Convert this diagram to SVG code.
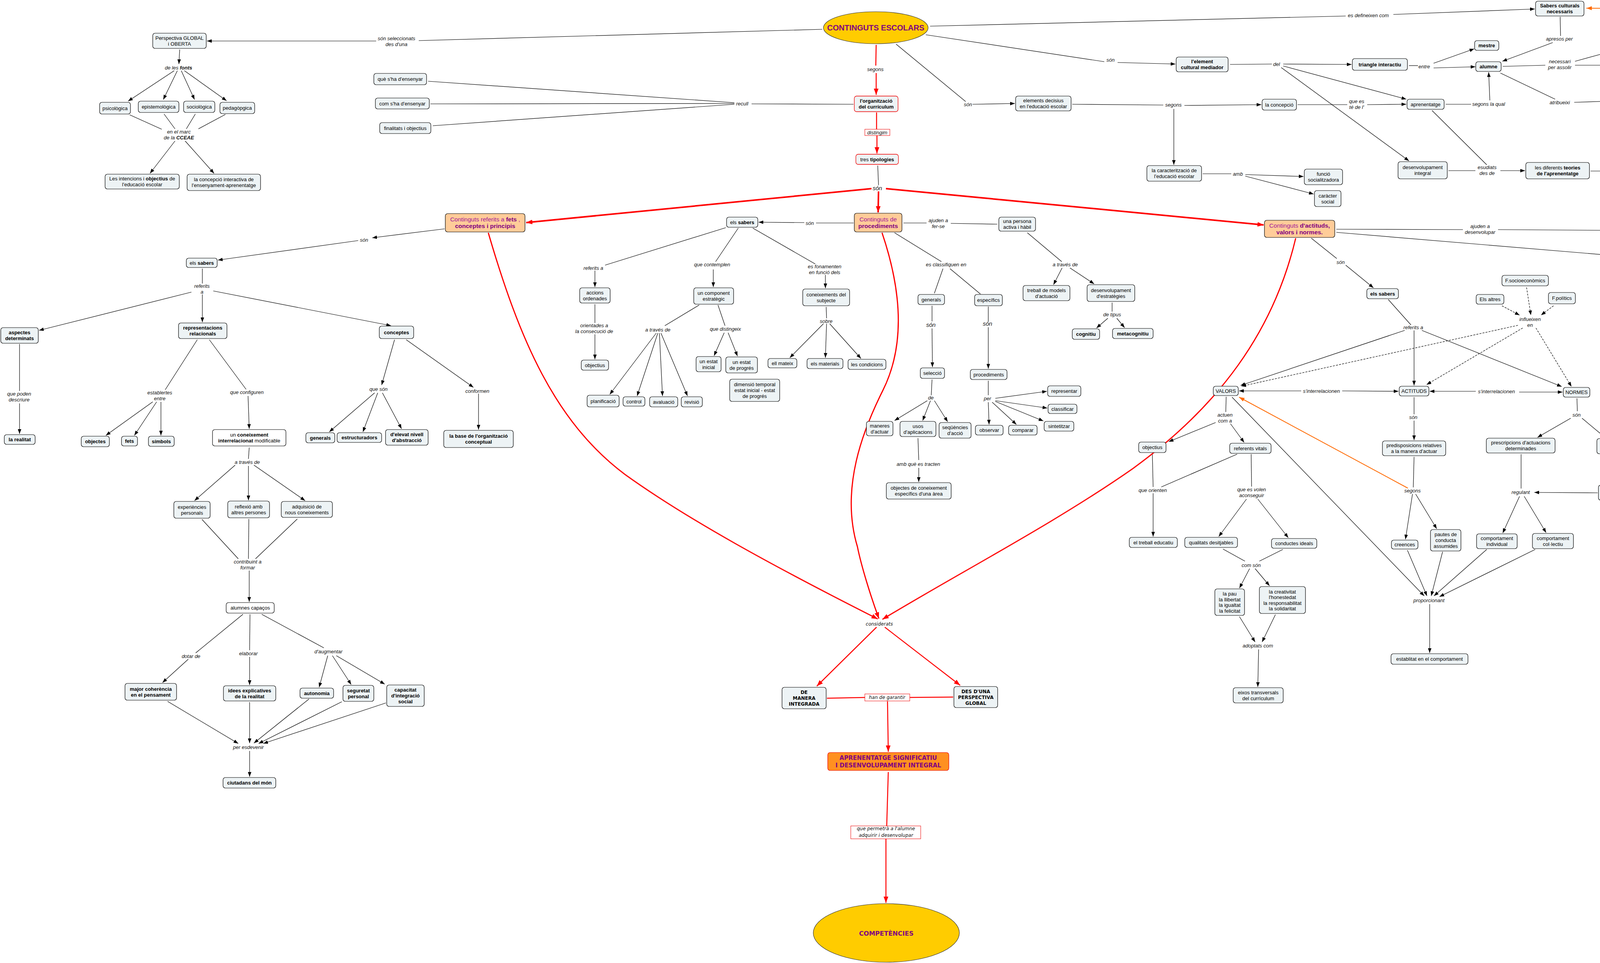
<svg xmlns="http://www.w3.org/2000/svg" width="4938" height="2466" viewBox="0 0 4938 2466">
<defs>
<style>
.n{fill:#edf3f5;stroke:#000;stroke-width:1.2}
.nw{fill:#fff;stroke:#000;stroke-width:1.2}
.nr{fill:#edf3f5;stroke:#e00;stroke-width:1.3}
.no{fill:#ffcc99;stroke:#000;stroke-width:1.2}
.t{font-family:"Liberation Sans",Arial,sans-serif;font-size:13px;fill:#000;text-anchor:middle}
.b{font-weight:bold}
.l{font-family:"Liberation Sans",Arial,sans-serif;font-size:13px;font-style:italic;fill:#111;text-anchor:middle}
.v{font-family:"DejaVu Sans",Verdana,sans-serif}
.big{font-size:15.5px}
.pm{fill:#a0189a}
.pp{fill:#800080}
.c{fill:none;stroke:#000;stroke-width:1.2}
.a{marker-end:url(#ah)}
.d{stroke-dasharray:5 3}
.r{fill:none;stroke:#f00;stroke-width:2.5}
.rt{stroke-width:4}
.rc{stroke-width:3}
.ra{marker-end:url(#rh)}
.o{fill:none;stroke:#ff6a00;stroke-width:2}
.oa{marker-end:url(#oh)}
.lb{fill:#fff;stroke:#e00;stroke-width:1}
</style>
<marker id="ah" viewBox="0 0 12 9" refX="12" refY="4.5" markerWidth="12" markerHeight="9" markerUnits="userSpaceOnUse" orient="auto"><path d="M0,0 L12,4.5 L0,9 z" fill="#000"/></marker>
<marker id="rh" viewBox="0 0 16 12" refX="16" refY="6" markerWidth="16" markerHeight="12" markerUnits="userSpaceOnUse" orient="auto"><path d="M0,0 L16,6 L0,12 z" fill="#f00"/></marker>
<marker id="oh" viewBox="0 0 14 10" refX="14" refY="5" markerWidth="14" markerHeight="10" markerUnits="userSpaceOnUse" orient="auto"><path d="M0,0 L14,5 L0,10 z" fill="#ff6a00"/></marker>
</defs>
<rect width="4938" height="2466" fill="#fff"/>

<g id="connectors">
<path class="c" d="M1072,104 L2105,75"/>
<path class="c" d="M2294,113 L2472,260"/>
<path class="c" d="M2370,89 L2827,158"/>
<path class="c" d="M2381,67 L3445,41"/>
<path class="c" d="M332,294 L414,331"/>
<path class="c" d="M420,292 L448,330"/>
<path class="c" d="M500,292 L477,330"/>
<path class="c" d="M577,293 L508,330"/>
<path class="c" d="M1096,208 L1880,263"/>
<path class="c" d="M1102,266 L1880,265"/>
<path class="c" d="M1108,322 L1880,267"/>
<path class="c" d="M1924,266 L2185,267"/>
<path class="c" d="M2247,424 L2249,474"/>
<path class="c" d="M3149,165 L3256,164"/>
<path class="c" d="M3607,168 L3630,168"/>
<path class="c" d="M2745,267 L2978,269"/>
<path class="c" d="M3322,268 L3449,268"/>
<path class="c" d="M3701,267 L3766,267"/>
<path class="c" d="M3666,283 L3806,422"/>
<path class="c" d="M3708,437 L3777,437"/>
<path class="c" d="M4072,438 L4155,438"/>
<path class="c" d="M3079,445 L3152,445"/>
<path class="c" d="M3994,43 L3995,92"/>
<path class="c" d="M3847,170 L3956,167"/>
<path class="c" d="M3841,187 L3981,254"/>
<path class="c" d="M2313,571 L2372,571"/>
<path class="c" d="M2434,572 L2553,574"/>
<path class="c" d="M2185,571 L2089,571"/>
<path class="c" d="M2290,596 L2410,670"/>
<path class="c" d="M2414,688 L2392,751"/>
<path class="c" d="M2432,688 L2510,753"/>
<path class="c" d="M1858,583 L1549,679"/>
<path class="c" d="M1890,584 L1832,670"/>
<path class="c" d="M1927,584 L2087,676"/>
<path class="c" d="M1523,779 L1523,827"/>
<path class="c" d="M1790,781 L1702,834"/>
<path class="c" d="M1838,781 L1856,834"/>
<path class="c" d="M2115,786 L2116,815"/>
<path class="c" d="M2386,783 L2386,823"/>
<path class="c" d="M2386,972 L2384,1012"/>
<path class="c" d="M2350,1122 L2352,1178"/>
<path class="c" d="M2530,785 L2530,823"/>
<path class="c" d="M2530,975 L2530,1012"/>
<path class="c" d="M2630,596 L2718,670"/>
<path class="c" d="M2847,775 L2847,798"/>
<path class="c" d="M3421,587 L3745,588"/>
<path class="c" d="M3835,588 L4139,590"/>
<path class="c" d="M3357,610 L3422,662"/>
<path class="c" d="M3554,767 L3612,832"/>
<path class="c" d="M3139,1016 L3138,1055"/>
<path class="c" d="M2950,1162 L2952,1247"/>
<path class="c" d="M3167,1163 L2973,1247"/>
<path class="c" d="M3203,1163 L3204,1246"/>
<path class="c" d="M3620,1017 L3620,1061"/>
<path class="c" d="M3620,1170 L3618,1248"/>
<path class="c" d="M3131,1406 L3187,1437"/>
<path class="c" d="M3284,1407 L3224,1437"/>
<path class="c" d="M4037,1020 L4038,1053"/>
<path class="c" d="M4139,1164 L4141,1191"/>
<path class="c" d="M3894,1163 L3894,1251"/>
<path class="c" d="M4678,863 L4551,959"/>
<path class="c" d="M4699,863 L4698,963"/>
<path class="c" d="M4845,861 L4847,954"/>
<path class="c" d="M4483,1105 L4511,1204"/>
<path class="c" d="M4570,1105 L4523,1204"/>
<path class="c" d="M4299,1300 L4239,1353"/>
<path class="c" d="M4349,1300 L4390,1347"/>
<path class="c" d="M4224,1464 L4226,1507"/>
<path class="c" d="M4399,1468 L4399,1506"/>
<path class="c" d="M518,688 L518,726"/>
<path class="c" d="M50,881 L50,1001"/>
<path class="c" d="M505,870 L423,998"/>
<path class="c" d="M536,870 L630,997"/>
<path class="c" d="M638,1146 L636,1175"/>
<path class="c" d="M517,1330 L610,1431"/>
<path class="c" d="M637,1329 L636,1431"/>
<path class="c" d="M761,1329 L654,1431"/>
<path class="c" d="M622,1573 L501,1672"/>
<path class="c" d="M640,1573 L639,1665"/>
<path class="c" d="M670,1573 L829,1659"/>

<path class="c a" d="M963,105 L530,105"/>
<path class="c a" d="M460,127 L458,164"/>
<path class="c a" d="M446,181 L328,259"/>
<path class="c a" d="M454,181 L418,255"/>
<path class="c a" d="M464,181 L498,255"/>
<path class="c a" d="M472,181 L580,258"/>
<path class="c a" d="M448,361 L384,444"/>
<path class="c a" d="M474,361 L548,444"/>
<path class="c a" d="M3567,37 L3929,23"/>
<path class="c a" d="M2861,160 L3009,164"/>
<path class="c a" d="M2490,267 L2598,265"/>
<path class="c a" d="M3285,164 L3460,165"/>
<path class="c a" d="M3285,169 L3600,254"/>
<path class="c a" d="M3280,173 L3607,412"/>
<path class="c a" d="M3670,162 L3774,125"/>
<path class="c a" d="M3670,174 L3777,171"/>
<path class="c a" d="M3032,270 L3229,268"/>
<path class="c a" d="M3005,279 L3005,422"/>
<path class="c a" d="M3500,268 L3600,267"/>
<path class="c a" d="M3814,257 L3811,185"/>
<path class="c a" d="M3841,437 L3904,437"/>
<path class="c a" d="M4250,438 L4301,438"/>
<path class="c a" d="M3188,447 L3337,452"/>
<path class="c a" d="M3188,451 L3363,497"/>
<path class="c a" d="M3975,109 L3846,157"/>
<path class="c a" d="M4032,157 L4116,134"/>
<path class="c a" d="M4032,167 L4140,167"/>
<path class="c a" d="M4030,262 L4121,259"/>
<path class="c a" d="M1138,586 L953,609"/>
<path class="c a" d="M917,616 L558,666"/>
<path class="c a" d="M2059,570 L1942,569"/>
<path class="c a" d="M1523,693 L1523,735"/>
<path class="c a" d="M1826,690 L1826,735"/>
<path class="c a" d="M2113,704 L2113,738"/>
<path class="c a" d="M1523,856 L1523,920"/>
<path class="c a" d="M1680,853 L1561,1010"/>
<path class="c a" d="M1684,853 L1631,1014"/>
<path class="c a" d="M1688,853 L1696,1014"/>
<path class="c a" d="M1692,853 L1760,1014"/>
<path class="c a" d="M1854,852 L1828,911"/>
<path class="c a" d="M1864,852 L1888,912"/>
<path class="c a" d="M2108,829 L2022,916"/>
<path class="c a" d="M2116,829 L2113,916"/>
<path class="c a" d="M2124,829 L2204,918"/>
<path class="c a" d="M2386,841 L2387,940"/>
<path class="c a" d="M2374,1026 L2290,1077"/>
<path class="c a" d="M2382,1026 L2362,1077"/>
<path class="c a" d="M2392,1026 L2426,1080"/>
<path class="c a" d="M2352,1198 L2352,1234"/>
<path class="c a" d="M2530,838 L2530,944"/>
<path class="c a" d="M2548,1020 L2680,1002"/>
<path class="c a" d="M2548,1026 L2681,1045"/>
<path class="c a" d="M2548,1028 L2671,1078"/>
<path class="c a" d="M2540,1030 L2602,1087"/>
<path class="c a" d="M2530,1030 L2532,1087"/>
<path class="c a" d="M2719,686 L2697,729"/>
<path class="c a" d="M2739,686 L2801,727"/>
<path class="c a" d="M2836,815 L2807,840"/>
<path class="c a" d="M2859,815 L2879,839"/>
<path class="c a" d="M3421,595 L4281,667"/>
<path class="c a" d="M4330,674 L4636,707"/>
<path class="c a" d="M4307,679 L4312,940"/>
<path class="c a" d="M3445,679 L3516,737"/>
<path class="c a" d="M3596,846 L3176,987"/>
<path class="c a" d="M3620,846 L3620,987"/>
<path class="c a" d="M3640,846 L3998,990"/>
<path class="c a" d="M3112,1082 L2992,1131"/>
<path class="c a" d="M3150,1085 L3185,1133"/>
<path class="c a" d="M2952,1263 L2952,1374"/>
<path class="c a" d="M3191,1278 L3120,1374"/>
<path class="c a" d="M3220,1278 L3298,1377"/>
<path class="c a" d="M3154,1017 L3646,1526"/>
<path class="c a" d="M3620,1077 L3620,1127"/>
<path class="c a" d="M3616,1265 L3598,1381"/>
<path class="c a" d="M3624,1265 L3678,1354"/>
<path class="c a" d="M3603,1409 L3653,1526"/>
<path class="c a" d="M3693,1413 L3664,1526"/>
<path class="c a" d="M3806,1407 L3671,1526"/>
<path class="c a" d="M3930,1407 L3685,1528"/>
<path class="c a" d="M3660,1547 L3660,1672"/>
<path class="c a" d="M3199,1456 L3173,1506"/>
<path class="c a" d="M3213,1456 L3250,1500"/>
<path class="c a" d="M3173,1579 L3213,1644"/>
<path class="c a" d="M3265,1574 L3231,1644"/>
<path class="c a" d="M3222,1663 L3220,1759"/>
<path class="c a" d="M4021,1071 L3936,1120"/>
<path class="c a" d="M4050,1071 L4110,1121"/>
<path class="c a" d="M4141,1209 L4141,1240"/>
<path class="c a" d="M4090,1262 L3928,1261"/>
<path class="c a" d="M3890,1271 L3847,1365"/>
<path class="c a" d="M3902,1271 L3958,1364"/>
<path class="c a" d="M4693,727 L4693,748"/>
<path class="c a" d="M4695,778 L4697,832"/>
<path class="c a" d="M4722,778 L4814,831"/>
<path class="c a" d="M4534,977 L4491,1062"/>
<path class="c a" d="M4543,977 L4572,1057"/>
<path class="c a" d="M4697,981 L4697,1063"/>
<path class="c a" d="M4849,986 L4850,1060"/>
<path class="c a" d="M4316,970 L4322,1145"/>
<path class="c a" d="M4326,1173 L4326,1253"/>
<path class="c a" d="M4225,1370 L4224,1430"/>
<path class="c a" d="M4221,1524 L4175,1610"/>
<path class="c a" d="M4232,1524 L4273,1609"/>
<path class="c a" d="M4398,1365 L4398,1437"/>
<path class="c a" d="M4400,1522 L4401,1593"/>
<path class="c a" d="M490,748 L100,846"/>
<path class="c a" d="M518,754 L518,825"/>
<path class="c a" d="M546,745 L1001,834"/>
<path class="c a" d="M50,1033 L50,1111"/>
<path class="c a" d="M391,1029 L271,1115"/>
<path class="c a" d="M401,1029 L344,1115"/>
<path class="c a" d="M412,1029 L412,1115"/>
<path class="c a" d="M635,1014 L638,1098"/>
<path class="c a" d="M602,1191 L498,1282"/>
<path class="c a" d="M636,1193 L636,1281"/>
<path class="c a" d="M650,1191 L781,1282"/>
<path class="c a" d="M638,1461 L638,1541"/>
<path class="c a" d="M482,1688 L416,1748"/>
<path class="c a" d="M639,1682 L639,1754"/>
<path class="c a" d="M839,1679 L817,1760"/>
<path class="c a" d="M851,1679 L899,1753"/>
<path class="c a" d="M861,1679 L985,1752"/>
<path class="c a" d="M429,1796 L610,1904"/>
<path class="c a" d="M639,1798 L639,1903"/>
<path class="c a" d="M791,1790 L650,1903"/>
<path class="c a" d="M875,1797 L662,1904"/>
<path class="c a" d="M988,1800 L674,1904"/>
<path class="c a" d="M639,1923 L639,1989"/>
<path class="c a" d="M1010,870 L977,986"/>
<path class="c a" d="M959,1006 L843,1106"/>
<path class="c a" d="M967,1006 L929,1106"/>
<path class="c a" d="M979,1006 L1028,1098"/>
<path class="c a" d="M1040,870 L1212,992"/>
<path class="c a" d="M1225,1008 L1225,1100"/>
<path class="c a" d="M3331,1001 L3172,1001"/>
<path class="c a" d="M3436,1001 L3580,1002"/>
<path class="c a" d="M3778,1002 L3660,1002"/>
<path class="c a" d="M3889,1004 L4000,1004"/>

<path class="c a d" d="M3908,736 L3919,807"/>
<path class="c a d" d="M3845,783 L3890,807"/>
<path class="c a d" d="M3977,783 L3945,807"/>
<path class="c a d" d="M3886,833 L3178,989"/>
<path class="c a d" d="M3898,840 L3652,985"/>
<path class="c a d" d="M3932,840 L4023,990"/>

<path class="r" d="M2243,115 L2242,168"/>
<path class="r ra" d="M2243,187 L2243,243"/>
<path class="r" d="M2244,288 L2244,331"/>
<path class="r ra" d="M2245,347 L2245,393"/>
<path class="r rt ra" d="M2231,483 L1347,570"/>
<path class="r rt ra" d="M2249,490 L2248,544"/>
<path class="r rt ra" d="M2268,483 L3235,576"/>
<path class="r rc ra" d="M1250,596 C1330,870 1420,1080 1600,1215 C1760,1330 1980,1450 2247,1585"/>
<path class="r rc ra" d="M2258,596 C2300,720 2325,870 2260,1000 C2210,1100 2150,1250 2195,1400 C2205,1450 2230,1530 2250,1584"/>
<path class="r rc ra" d="M3317,610 C3260,850 3120,1040 2900,1200 C2700,1340 2450,1470 2259,1586"/>
<path class="r ra" d="M2244,1606 L2091,1757"/>
<path class="r ra" d="M2265,1606 L2458,1755"/>
<path class="r" d="M2117,1788 L2214,1786"/>
<path class="r" d="M2329,1786 L2440,1785"/>
<path class="r ra" d="M2272,1796 L2274,1925"/>
<path class="r" d="M2274,1977 L2270,2115"/>
<path class="r ra" d="M2268,2148 L2268,2312"/>

<path class="o" d="M4239,244 C4295,212 4330,190 4330,140 L4330,134"/>
<path class="o oa" d="M4330,110 L4330,80 C4330,40 4300,24 4230,22 L4061,21"/>
<path class="o oa" d="M3604,1250 L3172,1017"/>
<path class="o oa" d="M4504,1207 C4440,1140 4380,1050 4325,972"/>
</g>

<g id="linking-phrases">
<text class="l" x="1015" y="103">són seleccionats<tspan x="1015" dy="15">des d'una</tspan></text>
<text class="l" x="457" y="177.5">de les <tspan class="b">fonts</tspan></text>
<text class="l" x="458" y="342">en el marc<tspan x="458" dy="15">de la </tspan><tspan class="b">CCEAE</tspan></text>
<text class="l" x="1900" y="269.5">recull</text>
<text class="l" x="2241" y="181.5">segons</text>
<rect class="lb" x="2214" y="331" width="64" height="16"/>
<text class="l" x="2246" y="343.5">distingim</text>
<text class="l" x="2246" y="487" style="font-size:15px">són</text>
<text class="l" x="3503" y="43.5">es defineixen com</text>
<text class="l" x="2843" y="157.5">són</text>
<text class="l" x="2478" y="271.5">són</text>
<text class="l" x="3268" y="168.5">del</text>
<text class="l" x="3646" y="174.5">entre</text>
<text class="l" x="3004" y="272.5">segons</text>
<text class="l" x="3473" y="264">que es<tspan x="3473" dy="15">té de l'</tspan></text>
<text class="l" x="3169" y="449.5">amb</text>
<text class="l" x="3992" y="103.5">apresos per</text>
<text class="l" x="3993" y="162">necessari<tspan x="3993" dy="15">per assolir</tspan></text>
<text class="l" x="3993" y="266.5">atribueixi</text>
<text class="l" x="3811" y="270.5">segons la qual</text>
<text class="l" x="4328" y="126.5">a tots aquells</text>
<text class="l" x="3807" y="433">esudiats<tspan x="3807" dy="15">des de</tspan></text>
<text class="l" x="4201" y="432">que<tspan x="4201" dy="15">desenvolupen</tspan></text>
<text class="l" x="3789" y="584">ajuden a<tspan x="3789" dy="15">desenvolupar</tspan></text>
<text class="l" x="4305" y="674.5">el seu</text>
<text class="l" x="932" y="618.5">són</text>
<text class="l" x="517" y="737">referits<tspan x="517" dy="15">a</tspan></text>
<text class="l" x="2402" y="569">ajuden a<tspan x="2402" dy="15">fer-se</tspan></text>
<text class="l" x="2073" y="575.5">són</text>
<text class="l" x="1519" y="690.5">referits a</text>
<text class="l" x="1823" y="681.5">que contemplen</text>
<text class="l" x="2111" y="687">es fonamenten<tspan x="2111" dy="15">en funció dels</tspan></text>
<text class="l" x="2422" y="681.5">es classifiquen en</text>
<text class="l" x="2727" y="681.5">a través de</text>
<text class="l" x="3432" y="675.5">són</text>
<text class="l" x="49" y="1013">que poden<tspan x="49" dy="15">descriure</tspan></text>
<text class="l" x="409" y="1010">establertes<tspan x="409" dy="15">entre</tspan></text>
<text class="l" x="632" y="1008.5">que configuren</text>
<text class="l" x="633" y="1187.5">a través de</text>
<text class="l" x="634" y="1443">contribuint a<tspan x="634" dy="15">formar</tspan></text>
<text class="l" x="969" y="1000.5">que són</text>
<text class="l" x="1222" y="1005.5">conformen</text>
<text class="l" x="1521" y="838">orientades a<tspan x="1521" dy="15">la consecució de</tspan></text>
<text class="l" x="1684" y="848.5">a través de</text>
<text class="l" x="1857" y="846.5">que distingeix</text>
<text class="l" x="2115" y="826.5">sobre</text>
<text class="l" x="2383" y="837" style="font-size:15px">són</text>
<text class="l" x="2383" y="1022.5">de</text>
<text class="l" x="2351" y="1192.5">amb què es tracten</text>
<text class="l" x="2528" y="834" style="font-size:15px">són</text>
<text class="l" x="2528" y="1024.5">per</text>
<text class="l" x="2847" y="809.5">de tipus</text>
<text class="l" x="3618" y="842.5">referits a</text>
<text class="l" x="3383" y="1005.5">s'interrelacionen</text>
<text class="l" x="3831" y="1006.5">s'interrelacionen</text>
<text class="l" x="3917" y="822">influeixen<tspan x="3917" dy="15">en</tspan></text>
<text class="l" x="3136" y="1067">actuen<tspan x="3136" dy="15">com a</tspan></text>
<text class="l" x="2951" y="1259.5">que orienten</text>
<text class="l" x="3204" y="1258">que es volen<tspan x="3204" dy="15">aconseguir</tspan></text>
<text class="l" x="3618" y="1072.5">són</text>
<text class="l" x="3616" y="1260.5">segons</text>
<text class="l" x="4036" y="1066.5">són</text>
<text class="l" x="4138" y="1204.5">però</text>
<text class="l" x="3893" y="1264.5">regulant</text>
<text class="l" x="3203" y="1451.5">com són</text>
<text class="l" x="3220" y="1657.5">adoptats com</text>
<text class="l" x="3658" y="1541.5">proporcionant</text>
<text class="l" x="4692" y="760">hi distingim<tspan x="4692" dy="15">dues vies</tspan></text>
<text class="l" x="4536" y="972.5">fomenta</text>
<text class="l" x="4693" y="975.5">programa</text>
<text class="l" x="4847" y="966">treballa per<tspan x="4847" dy="15">mitjà de</tspan></text>
<text class="l" x="4514" y="1217.5">per facilitar</text>
<text class="l" x="4322" y="1154">suposa<tspan x="4322" dy="15">crear una</tspan></text>
<text class="l" x="4227" y="1364.5">segons les</text>
<text class="l" x="4395" y="1359.5">que atribuirà</text>
<text class="l" x="4222" y="1519.5">ja siguin</text>
<text class="l" x="4398" y="1518.5">a</text>
<text class="l" x="489" y="1684.5">dotar de</text>
<text class="l" x="636" y="1677.5">elaborar</text>
<text class="l" x="841" y="1672.5">d'augmentar</text>
<text class="l" x="636" y="1917.5">per esdevenir</text>
<text class="l v" x="2251" y="1602" style="font-size:12px">considerats</text>
<rect class="lb" x="2214" y="1777" width="115" height="18"/>
<text class="l v" x="2271" y="1790" style="font-size:12px">han de garantir</text>
<rect class="lb" x="2178" y="2115" width="179" height="33"/>
<text class="l v" x="2268" y="2126" style="font-size:12px">que permetrà a l'alumne<tspan x="2268" dy="17">adquirir i desenvolupar</tspan></text>
</g>

<g id="n-continguts"><ellipse cx="2242" cy="71" rx="134" ry="41" fill="#ffcc00" stroke="#333" stroke-width="1.2"/><text class="t b pp" x="2242" y="78" style="font-size:20px">CONTINGUTS ESCOLARS</text></g>
<g id="n-perspectiva"><rect class="n" x="391" y="85" width="137" height="39" rx="6"/><text class="t" x="459.5" y="101.5">Perspectiva GLOBAL<tspan x="459.5" dy="15">i OBERTA</tspan></text></g>
<g id="n-psicologica"><rect class="n" x="255" y="262" width="79" height="30" rx="6"/><text class="t" x="294.5" y="281.5">psicològica</text></g>
<g id="n-epistemologica"><rect class="n" x="354" y="259" width="104" height="29" rx="6"/><text class="t" x="406" y="278">epistemològica</text></g>
<g id="n-sociologica"><rect class="n" x="470" y="259" width="80" height="29" rx="6"/><text class="t" x="510" y="278">sociològica</text></g>
<g id="n-pedagogica"><rect class="n" x="563" y="262" width="89" height="29" rx="6"/><text class="t" x="607.5" y="281">pedagòpgica</text></g>
<g id="n-intencions"><rect class="n" x="269" y="446" width="190" height="38" rx="6"/><text class="t" x="364" y="462">Les intencions i <tspan class="b">objectius</tspan> de<tspan x="364" dy="15">l'educació escolar</tspan></text></g>
<g id="n-concepcio-ea"><rect class="n" x="479" y="446" width="188" height="42" rx="6"/><text class="t" x="573" y="464">la concepció interactiva de<tspan x="573" dy="15">l'ensenyament-aprenentatge</tspan></text></g>
<g id="n-que-ensenyar"><rect class="n" x="957" y="188" width="135" height="29" rx="6"/><text class="t" x="1024.5" y="207">què s'ha d'ensenyar</text></g>
<g id="n-com-ensenyar"><rect class="n" x="961" y="251" width="138" height="28" rx="6"/><text class="t" x="1030" y="269.5">com s'ha d'ensenyar</text></g>
<g id="n-finalitats"><rect class="n" x="972" y="314" width="131" height="28" rx="6"/><text class="t" x="1037.5" y="332.5">finalitats i objectius</text></g>
<g id="n-organitzacio"><rect class="nr" x="2187" y="246" width="112" height="40" rx="6"/><text class="t b" x="2243" y="263">l'organització<tspan x="2243" dy="15">del currículum</tspan></text></g>
<g id="n-tipologies"><rect class="nr" x="2191" y="395" width="109" height="26" rx="6"/><text class="t" x="2245.5" y="412.5">tres <tspan class="b">tipologies</tspan></text></g>
<g id="n-c-fets"><rect class="no" x="1140" y="547" width="204" height="47" rx="6"/><text class="t big pm" x="1242" y="567">Continguts referits a <tspan class="b pp">fets</tspan> ,<tspan x="1242" dy="17" class="b pp">conceptes i principis</tspan></text></g>
<g id="n-c-proc"><rect class="no" x="2187" y="546" width="122" height="48" rx="6"/><text class="t big pm" x="2248" y="566.5">Continguts de<tspan x="2248" dy="17" class="b pp">procediments</tspan></text></g>
<g id="n-c-act"><rect class="no" x="3237" y="564" width="180" height="44" rx="6"/><text class="t big pm" x="3327" y="582.5">Continguts <tspan class="b pp">d'actituds,</tspan><tspan x="3327" dy="17" class="b pp">valors i normes.</tspan></text></g>
<g id="n-element"><rect class="n" x="3011" y="146" width="133" height="38" rx="6"/><text class="t b" x="3077.5" y="162">l'element<tspan x="3077.5" dy="15">cultural mediador</tspan></text></g>
<g id="n-triangle"><rect class="n" x="3462" y="150" width="141" height="30" rx="6"/><text class="t b" x="3532.5" y="169.5">triangle interactiu</text></g>
<g id="n-elements-decisius"><rect class="n" x="2600" y="246" width="142" height="38" rx="6"/><text class="t" x="2671" y="262">elements decisius<tspan x="2671" dy="15">en l'educació escolar</tspan></text></g>
<g id="n-concepcio"><rect class="n" x="3231" y="254" width="88" height="28" rx="6"/><text class="t" x="3275" y="272.5">la concepció</text></g>
<g id="n-aprenentatge"><rect class="n" x="3602" y="254" width="95" height="26" rx="6"/><text class="t" x="3649.5" y="271.5">aprenentatge</text></g>
<g id="n-desenv-integral"><rect class="n" x="3579" y="414" width="126" height="44" rx="6"/><text class="t" x="3642" y="433">desenvolupament<tspan x="3642" dy="15">integral</tspan></text></g>
<g id="n-caracteritzacio"><rect class="n" x="2936" y="424" width="140" height="40" rx="6"/><text class="t" x="3006" y="441">la caracterització de<tspan x="3006" dy="15">l'educació escolar</tspan></text></g>
<g id="n-funcio"><rect class="n" x="3339" y="433" width="98" height="40" rx="6"/><text class="t" x="3388" y="450">funció<tspan x="3388" dy="15">socialitzadora</tspan></text></g>
<g id="n-caracter"><rect class="n" x="3365" y="488" width="68" height="41" rx="6"/><text class="t" x="3399" y="505.5">caràcter<tspan x="3399" dy="15">social</tspan></text></g>
<g id="n-persona"><rect class="n" x="2557" y="556" width="94" height="36" rx="6"/><text class="t" x="2604" y="571">una persona<tspan x="2604" dy="15">activa i hàbil</tspan></text></g>
<g id="n-sabers-cult"><rect class="n" x="3931" y="3" width="124" height="38" rx="6"/><text class="t b" x="3993" y="19">Sabers culturals<tspan x="3993" dy="15">necessaris</tspan></text></g>
<g id="n-mestre"><rect class="n" x="3775" y="104" width="62" height="25" rx="6"/><text class="t b" x="3806" y="121">mestre</text></g>
<g id="n-alumne"><rect class="n" x="3778" y="158" width="65" height="25" rx="6"/><text class="t b" x="3810.5" y="175">alumne</text></g>
<g id="n-desenvolupament"><rect class="n" x="4111" y="106" width="134" height="27" rx="6"/><text class="t b" x="4178" y="124">desenvolupament</text></g>
<g id="n-socialitzacio"><rect class="n" x="4142" y="153" width="99" height="26" rx="6"/><text class="t b" x="4191.5" y="170.5">socialització</text></g>
<g id="n-significat-personal"><rect class="n" x="4123" y="245" width="139" height="26" rx="6"/><text class="t b" x="4192.5" y="262.5">significat personal</text></g>
<g id="n-teories"><rect class="n" x="3906" y="416" width="163" height="42" rx="6"/><text class="t" x="3987.5" y="434">les diferents <tspan class="b">teories</tspan><tspan x="3987.5" dy="15" class="b">de l'aprenentatge</tspan></text></g>
<g id="n-capacitats"><rect class="n" x="4303" y="406" width="120" height="61" rx="6"/><text class="t b" x="4363" y="425" style="font-size:15px">CAPACITATS<tspan x="4363" dy="17">DELS</tspan><tspan x="4363" dy="17">ALUMNES</tspan></text></g>
<g id="n-responsabilitat"><rect class="n" x="4141" y="576" width="132" height="28" rx="6"/><text class="t b" x="4207" y="594.5">la responsabilitat</text></g>
<g id="n-sabers-fets"><rect class="n" x="477" y="661" width="79" height="24" rx="6"/><text class="t" x="516.5" y="677.5">els <tspan class="b">sabers</tspan></text></g>
<g id="n-aspectes"><rect class="n" x="2" y="839" width="96" height="40" rx="6"/><text class="t b" x="50" y="856">aspectes<tspan x="50" dy="15">determinats</tspan></text></g>
<g id="n-representacions"><rect class="n" x="457" y="827" width="124" height="40" rx="6"/><text class="t b" x="519" y="844">representacions<tspan x="519" dy="15">relacionals</tspan></text></g>
<g id="n-conceptes"><rect class="n" x="971" y="835" width="88" height="32" rx="6"/><text class="t b" x="1015" y="855.5">conceptes</text></g>
<g id="n-realitat"><rect class="n" x="11" y="1113" width="79" height="25" rx="6"/><text class="t b" x="50.5" y="1130">la realitat</text></g>
<g id="n-objectes"><rect class="n" x="208" y="1117" width="72" height="27" rx="6"/><text class="t b" x="244" y="1135">objectes</text></g>
<g id="n-fets"><rect class="n" x="311" y="1117" width="41" height="25" rx="6"/><text class="t b" x="331.5" y="1134">fets</text></g>
<g id="n-simbols"><rect class="n" x="380" y="1117" width="66" height="26" rx="6"/><text class="t b" x="413" y="1134.5">símbols</text></g>
<g id="n-coneixement"><rect class="nw" x="544" y="1100" width="188" height="42" rx="6"/><text class="t" x="638" y="1118">un <tspan class="b">coneixement</tspan><tspan x="638" dy="15" class="b">interrelacionat</tspan> modificable</text></g>
<g id="n-experiencies"><rect class="n" x="445" y="1284" width="93" height="43" rx="6"/><text class="t" x="491.5" y="1302.5">experiències<tspan x="491.5" dy="15">personals</tspan></text></g>
<g id="n-reflexio"><rect class="n" x="583" y="1283" width="107" height="43" rx="6"/><text class="t" x="636.5" y="1301.5">reflexió amb<tspan x="636.5" dy="15">altres persones</tspan></text></g>
<g id="n-adquisicio"><rect class="n" x="720" y="1284" width="131" height="41" rx="6"/><text class="t" x="785.5" y="1301.5">adquisició de<tspan x="785.5" dy="15">nous coneixements</tspan></text></g>
<g id="n-generals-c"><rect class="n" x="783" y="1108" width="74" height="26" rx="6"/><text class="t b" x="820" y="1125.5">generals</text></g>
<g id="n-estructuradors"><rect class="n" x="863" y="1108" width="114" height="25" rx="6"/><text class="t b" x="920" y="1125">estructuradors</text></g>
<g id="n-elevat"><rect class="n" x="987" y="1100" width="109" height="40" rx="6"/><text class="t b" x="1041.5" y="1117">d'elevat nivell<tspan x="1041.5" dy="15">d'abstracció</tspan></text></g>
<g id="n-base"><rect class="n" x="1136" y="1102" width="178" height="44" rx="6"/><text class="t b" x="1225" y="1121">la base de l'organització<tspan x="1225" dy="15">conceptual</tspan></text></g>
<g id="n-alumnes-capacos"><rect class="nw" x="579" y="1543" width="123" height="27" rx="6"/><text class="t" x="640.5" y="1561">alumnes capaços</text></g>
<g id="n-major"><rect class="n" x="320" y="1750" width="132" height="43" rx="6"/><text class="t b" x="386" y="1768.5">major coherència<tspan x="386" dy="15">en el pensament</tspan></text></g>
<g id="n-idees"><rect class="n" x="572" y="1756" width="134" height="39" rx="6"/><text class="t b" x="639" y="1772.5">idees explicatives<tspan x="639" dy="15">de la realitat</tspan></text></g>
<g id="n-autonomia"><rect class="n" x="768" y="1762" width="86" height="26" rx="6"/><text class="t b" x="811" y="1779.5">autonomia</text></g>
<g id="n-seguretat"><rect class="n" x="878" y="1755" width="79" height="41" rx="6"/><text class="t b" x="917.5" y="1772.5">seguretat<tspan x="917.5" dy="15">personal</tspan></text></g>
<g id="n-capacitat"><rect class="n" x="990" y="1754" width="96" height="55" rx="6"/><text class="t b" x="1038" y="1771">capacitat<tspan x="1038" dy="15">d'integració</tspan><tspan x="1038" dy="15">social</tspan></text></g>
<g id="n-ciutadans"><rect class="n" x="571" y="1991" width="135" height="27" rx="6"/><text class="t b" x="638.5" y="2009">ciutadans del món</text></g>
<g id="n-sabers-proc"><rect class="n" x="1860" y="556" width="80" height="26" rx="6"/><text class="t" x="1900" y="573.5">els <tspan class="b">sabers</tspan></text></g>
<g id="n-accions"><rect class="n" x="1484" y="737" width="78" height="39" rx="6"/><text class="t" x="1523" y="753.5">accions<tspan x="1523" dy="15">ordenades</tspan></text></g>
<g id="n-objectius-p"><rect class="n" x="1488" y="922" width="70" height="26" rx="6"/><text class="t" x="1523" y="939.5">objectius</text></g>
<g id="n-component"><rect class="n" x="1776" y="737" width="102" height="42" rx="6"/><text class="t" x="1827" y="755">un component<tspan x="1827" dy="15">estratègic</tspan></text></g>
<g id="n-planificacio"><rect class="n" x="1503" y="1012" width="82" height="30" rx="6"/><text class="t" x="1544" y="1031.5">planificació</text></g>
<g id="n-control"><rect class="n" x="1595" y="1016" width="56" height="24" rx="6"/><text class="t" x="1623" y="1032.5">control</text></g>
<g id="n-avaluacio"><rect class="n" x="1663" y="1016" width="72" height="26" rx="6"/><text class="t" x="1699" y="1033.5">avaluació</text></g>
<g id="n-revisio"><rect class="n" x="1744" y="1016" width="54" height="26" rx="6"/><text class="t" x="1771" y="1033.5">revisió</text></g>
<g id="n-estat-inicial"><rect class="n" x="1782" y="913" width="64" height="39" rx="6"/><text class="t" x="1814" y="929.5">un estat<tspan x="1814" dy="15">inicial</tspan></text></g>
<g id="n-estat-progres"><rect class="n" x="1858" y="914" width="81" height="41" rx="6"/><text class="t" x="1898.5" y="931.5">un estat<tspan x="1898.5" dy="15">de progrés</tspan></text></g>
<g id="n-dimensio"><rect class="n" x="1868" y="971" width="128" height="57" rx="6"/><text class="t" x="1932" y="989">dimensió temporal<tspan x="1932" dy="15">estat inicial - estat</tspan><tspan x="1932" dy="15">de progrés</tspan></text></g>
<g id="n-coneixements-subj"><rect class="n" x="2055" y="740" width="120" height="43" rx="6"/><text class="t" x="2115" y="758.5">coneixements del<tspan x="2115" dy="15">subjecte</tspan></text></g>
<g id="n-ell-mateix"><rect class="n" x="1966" y="918" width="74" height="24" rx="6"/><text class="t" x="2003" y="934.5">ell mateix</text></g>
<g id="n-materials"><rect class="n" x="2066" y="918" width="92" height="26" rx="6"/><text class="t" x="2112" y="935.5">els materials</text></g>
<g id="n-condicions"><rect class="n" x="2171" y="920" width="97" height="26" rx="6"/><text class="t" x="2219.5" y="937.5">les condicions</text></g>
<g id="n-generals-p"><rect class="n" x="2350" y="754" width="68" height="26" rx="6"/><text class="t" x="2384" y="771.5">generals</text></g>
<g id="n-especifics"><rect class="n" x="2495" y="754" width="71" height="29" rx="6"/><text class="t" x="2530.5" y="773">específics</text></g>
<g id="n-seleccio"><rect class="n" x="2356" y="942" width="62" height="27" rx="6"/><text class="t" x="2387" y="960">selecció</text></g>
<g id="n-maneres"><rect class="n" x="2218" y="1079" width="68" height="37" rx="6"/><text class="t" x="2252" y="1094.5">maneres<tspan x="2252" dy="15">d'actuar</tspan></text></g>
<g id="n-usos"><rect class="n" x="2304" y="1079" width="92" height="39" rx="6"/><text class="t" x="2350" y="1095.5">usos<tspan x="2350" dy="15">d'aplicacions</tspan></text></g>
<g id="n-sequencies"><rect class="n" x="2404" y="1082" width="82" height="40" rx="6"/><text class="t" x="2445" y="1099">seqüències<tspan x="2445" dy="15">d'acció</tspan></text></g>
<g id="n-objectes-con"><rect class="n" x="2269" y="1236" width="166" height="42" rx="6"/><text class="t" x="2352" y="1254">objectes de coneixement<tspan x="2352" dy="15">específics d'una àrea</tspan></text></g>
<g id="n-procediments"><rect class="n" x="2484" y="946" width="94" height="26" rx="6"/><text class="t" x="2531" y="963.5">procediments</text></g>
<g id="n-representar"><rect class="n" x="2682" y="988" width="85" height="27" rx="6"/><text class="t" x="2724.5" y="1006">representar</text></g>
<g id="n-classificar"><rect class="n" x="2683" y="1035" width="74" height="24" rx="6"/><text class="t" x="2720" y="1051.5">classificar</text></g>
<g id="n-sintetitzar"><rect class="n" x="2673" y="1079" width="76" height="25" rx="6"/><text class="t" x="2711" y="1096">sintetitzar</text></g>
<g id="n-comparar"><rect class="n" x="2582" y="1089" width="73" height="25" rx="6"/><text class="t" x="2618.5" y="1106">comparar</text></g>
<g id="n-observar"><rect class="n" x="2497" y="1089" width="71" height="25" rx="6"/><text class="t" x="2532.5" y="1106">observar</text></g>
<g id="n-treball-models"><rect class="n" x="2619" y="731" width="120" height="39" rx="6"/><text class="t" x="2679" y="747.5">treball de models<tspan x="2679" dy="15">d'actuació</tspan></text></g>
<g id="n-desenv-estrat"><rect class="n" x="2783" y="729" width="122" height="43" rx="6"/><text class="t" x="2844" y="747.5">desenvolupament<tspan x="2844" dy="15">d'estratègies</tspan></text></g>
<g id="n-cognitiu"><rect class="n" x="2745" y="842" width="70" height="27" rx="6"/><text class="t b" x="2780" y="860">cognitiu</text></g>
<g id="n-metacognitiu"><rect class="n" x="2848" y="841" width="104" height="26" rx="6"/><text class="t b" x="2900" y="858.5">metacognitiu</text></g>
<g id="n-sabers-act"><rect class="n" x="3499" y="739" width="81" height="26" rx="6"/><text class="t b" x="3539.5" y="756.5">els sabers</text></g>
<g id="n-valors"><rect class="n" x="3106" y="989" width="64" height="24" rx="6"/><text class="t" x="3138" y="1005.5">VALORS</text></g>
<g id="n-actituds"><rect class="n" x="3582" y="989" width="76" height="25" rx="6"/><text class="t" x="3620" y="1006">ACTITUDS</text></g>
<g id="n-normes"><rect class="n" x="4002" y="992" width="68" height="25" rx="6"/><text class="t" x="4036" y="1009">NORMES</text></g>
<g id="n-f-socio"><rect class="n" x="3845" y="705" width="119" height="27" rx="6"/><text class="t" x="3904.5" y="723">F.socioeconòmics</text></g>
<g id="n-els-altres"><rect class="n" x="3779" y="754" width="71" height="25" rx="6"/><text class="t" x="3814.5" y="771">Els altres</text></g>
<g id="n-f-politics"><rect class="n" x="3964" y="749" width="69" height="29" rx="6"/><text class="t" x="3998.5" y="768">F.polítics</text></g>
<g id="n-objectius-v"><rect class="n" x="2915" y="1132" width="70" height="27" rx="6"/><text class="t" x="2950" y="1150">objectius</text></g>
<g id="n-referents"><rect class="n" x="3148" y="1135" width="106" height="26" rx="6"/><text class="t" x="3201" y="1152.5">referents vitals</text></g>
<g id="n-treball-edu"><rect class="n" x="2891" y="1376" width="123" height="26" rx="6"/><text class="t" x="2952.5" y="1393.5">el treball educatiu</text></g>
<g id="n-qualitats"><rect class="n" x="3033" y="1376" width="135" height="26" rx="6"/><text class="t" x="3100.5" y="1393.5">qualitats desitjables</text></g>
<g id="n-conductes"><rect class="n" x="3255" y="1379" width="116" height="25" rx="6"/><text class="t" x="3313" y="1396">conductes ideals</text></g>
<g id="n-predisposicions"><rect class="n" x="3539" y="1129" width="162" height="38" rx="6"/><text class="t" x="3620" y="1145">predisposicions relatives<tspan x="3620" dy="15">a la manera d'actuar</tspan></text></g>
<g id="n-creences"><rect class="n" x="3562" y="1383" width="68" height="23" rx="6"/><text class="t" x="3596" y="1399">creences</text></g>
<g id="n-pautes"><rect class="n" x="3662" y="1356" width="78" height="55" rx="6"/><text class="t" x="3701" y="1373">pautes de<tspan x="3701" dy="15">conducta</tspan><tspan x="3701" dy="15">assumides</tspan></text></g>
<g id="n-prescripcions"><rect class="n" x="3805" y="1122" width="176" height="38" rx="6"/><text class="t" x="3893" y="1138">prescripcions d'actuacions<tspan x="3893" dy="15">determinades</tspan></text></g>
<g id="n-externes"><rect class="n" x="4088" y="1123" width="100" height="39" rx="6"/><text class="t" x="4138" y="1139.5">externes i<tspan x="4138" dy="15">convencionals</tspan></text></g>
<g id="n-adoptades"><rect class="n" x="4092" y="1242" width="100" height="39" rx="6"/><text class="t" x="4142" y="1258.5">adoptades i<tspan x="4142" dy="15">interioritzades</tspan></text></g>
<g id="n-comp-individual"><rect class="n" x="3780" y="1367" width="104" height="38" rx="6"/><text class="t" x="3832" y="1383">comportament<tspan x="3832" dy="15">individual</tspan></text></g>
<g id="n-comp-collectiu"><rect class="n" x="3923" y="1366" width="105" height="39" rx="6"/><text class="t" x="3975.5" y="1382.5">comportament<tspan x="3975.5" dy="15">col·lectiu</tspan></text></g>
<g id="n-aprenentatge2"><rect class="n" x="4253" y="942" width="122" height="25" rx="6"/><text class="t b" x="4314" y="959">APRENENTATGE</text></g>
<g id="n-ensenyament"><rect class="n" x="4638" y="697" width="107" height="28" rx="6"/><text class="t" x="4691.5" y="715.5">ENSENYAMENT</text></g>
<g id="n-via-curr"><rect class="n" x="4652" y="834" width="93" height="25" rx="6"/><text class="t" x="4698.5" y="851">Via curricular</text></g>
<g id="n-via-inst"><rect class="n" x="4788" y="833" width="111" height="25" rx="6"/><text class="t" x="4843.5" y="850">Via institucional</text></g>
<g id="n-clima"><rect class="n" x="4431" y="1064" width="88" height="38" rx="6"/><text class="t" x="4475" y="1080">Clima<tspan x="4475" dy="15">comunicatiu</tspan></text></g>
<g id="n-gestio"><rect class="n" x="4540" y="1059" width="86" height="43" rx="6"/><text class="t" x="4583" y="1077.5">Gestió<tspan x="4583" dy="15">cooperativa</tspan></text></g>
<g id="n-contiguts-act"><rect class="n" x="4655" y="1065" width="85" height="38" rx="6"/><text class="t" x="4697.5" y="1081">Contiguts<tspan x="4697.5" dy="15">actitudinals</tspan></text></g>
<g id="n-relacions"><rect class="n" x="4767" y="1062" width="169" height="42" rx="6"/><text class="t" x="4851.5" y="1080">les relacions socials<tspan x="4851.5" dy="15">configurades en el centre</tspan></text></g>
<g id="n-configuracio"><rect class="n" x="4255" y="1255" width="144" height="42" rx="6"/><text class="t" x="4327" y="1273">configuració personal<tspan x="4327" dy="15">subjectiva</tspan></text></g>
<g id="n-experiencies2"><rect class="n" x="4179" y="1432" width="90" height="29" rx="6"/><text class="t" x="4224" y="1451">experiències</text></g>
<g id="n-positives"><rect class="n" x="4130" y="1612" width="68" height="27" rx="6"/><text class="t" x="4164" y="1630">positives</text></g>
<g id="n-negatives"><rect class="n" x="4246" y="1611" width="72" height="27" rx="6"/><text class="t" x="4282" y="1629">negatives</text></g>
<g id="n-significat"><rect class="n" x="4365" y="1439" width="68" height="26" rx="6"/><text class="t" x="4399" y="1456.5">significat</text></g>
<g id="n-comportaments"><rect class="n" x="4348" y="1595" width="110" height="40" rx="6"/><text class="t" x="4403" y="1612">comportaments<tspan x="4403" dy="15">i actituds</tspan></text></g>
<g id="n-la-pau"><rect class="n" x="3110" y="1508" width="76" height="68" rx="6"/><text class="t" x="3148" y="1525">la pau<tspan x="3148" dy="14.5">la llibertat</tspan><tspan x="3148" dy="14.5">la igualtat</tspan><tspan x="3148" dy="14.5">la felicitat</tspan></text></g>
<g id="n-la-creativitat"><rect class="n" x="3224" y="1502" width="118" height="69" rx="6"/><text class="t" x="3283" y="1519.5">la creativitat<tspan x="3283" dy="14.5">l'honestedat</tspan><tspan x="3283" dy="14.5">la responsabilitat</tspan><tspan x="3283" dy="14.5">la solidaritat</tspan></text></g>
<g id="n-eixos"><rect class="n" x="3157" y="1761" width="128" height="39" rx="6"/><text class="t" x="3221" y="1777.5">eixos transversals<tspan x="3221" dy="15">del currículum</tspan></text></g>
<g id="n-establitat"><rect class="n" x="3561" y="1674" width="197" height="27" rx="6"/><text class="t" x="3659.5" y="1692">establitat en el comportament</text></g>
<g id="n-de-manera"><rect class="n" x="2002" y="1760" width="113" height="55" rx="6"/><text class="t b v" x="2058.5" y="1777" style="font-size:12px">DE<tspan x="2058.5" dy="15">MANERA</tspan><tspan x="2058.5" dy="14.5">INTEGRADA</tspan></text></g>
<g id="n-des-duna"><rect class="n" x="2442" y="1758" width="112" height="54" rx="6"/><text class="t b v" x="2498" y="1775" style="font-size:12px">DES D'UNA<tspan x="2498" dy="14.5">PERSPECTIVA</tspan><tspan x="2498" dy="15">GLOBAL</tspan></text></g>
<g id="n-aprenentatge-sig"><rect x="2119" y="1927" width="310" height="46" rx="6" fill="#ff9020" stroke="#e00" stroke-width="1.2"/><text class="t b v pp" x="2274" y="1946" style="font-size:15px">APRENENTATGE SIGNIFICATIU<tspan x="2274" dy="19">I DESENVOLUPAMENT INTEGRAL</tspan></text></g>
<g id="n-competencies"><ellipse cx="2269" cy="2389" rx="187" ry="75" fill="#ffcc00" stroke="#333" stroke-width="1.2"/><text class="t b v pp" x="2269" y="2396" style="font-size:16px">COMPETÈNCIES</text></g>
</svg>
